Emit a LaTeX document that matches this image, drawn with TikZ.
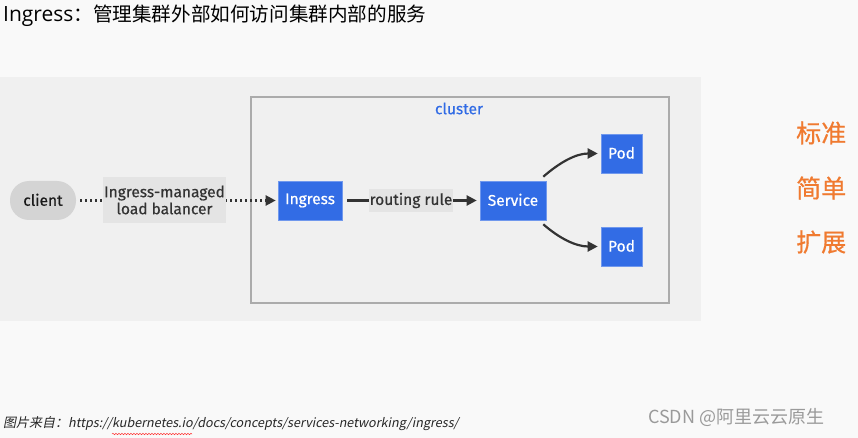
\documentclass[tikz,border=0pt]{standalone}
\usepackage{fontspec}
\setmainfont[FakeBold=0.5]{Fira Sans}
\newfontfamily\cjk{Noto Sans CJK SC}
\newfontfamily\cjkbold[FakeBold=0.6]{Noto Sans CJK SC}
\newfontfamily\titlelatin{Open Sans}
\newfontfamily\cjkit[FakeSlant=0.2]{Noto Sans CJK SC}
\usetikzlibrary{arrows.meta,decorations.pathmorphing}
\definecolor{kblue}{HTML}{326CE5}
\definecolor{pagebg}{HTML}{F9F9F9}
\definecolor{band}{HTML}{F0F0F0}
\definecolor{clusterline}{HTML}{ABABAB}
\definecolor{clientfill}{HTML}{D4D4D4}
\definecolor{labelfill}{HTML}{E4E4E4}
\definecolor{arrowc}{HTML}{333333}
\definecolor{orangetext}{HTML}{F07A30}
\definecolor{credit}{HTML}{9A9A9A}
\tikzset{
  kbox/.style={fill=kblue, draw=kblue!70!white, line width=0.6pt, text=white, inner sep=0pt, minimum height=39pt, font=\fontsize{15.5}{18}\selectfont},
  pill/.style={fill=clientfill, rounded corners=19pt, inner sep=0pt, minimum width=66pt, minimum height=39pt, text=black!90, font=\fontsize{15.5}{18}\selectfont},
  elabel/.style={fill=labelfill, inner sep=0pt, text=black!80, font=\fontsize{15.5}{18}\selectfont, align=center},
  arr/.style={draw=arrowc, line width=2.2pt, -{Triangle[length=10pt,width=10pt]}},
  dotarr/.style={arr, dash pattern=on 2.2pt off 2.8pt},
  sidetext/.style={text=orangetext, font=\cjkbold\fontsize{25}{28}\selectfont, anchor=west}
}
\begin{document}
\begin{tikzpicture}[x=1pt,y=-1pt]
\useasboundingbox (0,0) rectangle (858,438);
\fill[pagebg] (0,0) rectangle (858,438);
\fill[band] (0,77) rectangle (701,321);

% title
\node[anchor=west, inner sep=0pt, font=\cjk\fontsize{19.6}{24}\selectfont] (title) at (3,16) {{\titlelatin\fontsize{21}{24}\selectfont Ingress}：管理集群外部如何访问集群内部的服务};

% cluster frame
\node[draw=clusterline, line width=1.6pt, minimum width=418pt, minimum height=206pt, inner sep=0pt] (cluster) at (460,200) {};
\node[text=kblue, font=\fontsize{15.5}{18}\selectfont, inner sep=0pt] (clusterlbl) at (459,108.5) {cluster};

% nodes
\node[pill] (client) at (43,200.5) {\raisebox{1.5pt}{client}};
\node[kbox, minimum width=64pt] (ingress) at (310,200.5) {\raisebox{1.5pt}{Ingress}};
\node[kbox, minimum width=66pt] (service) at (513,200.5) {\raisebox{1.5pt}{Service}};
\node[kbox, minimum width=41pt] (pod1) at (621.5,153.5) {\raisebox{1.5pt}{Pod}};
\node[kbox, minimum width=41pt] (pod2) at (621.5,246.5) {\raisebox{1.5pt}{Pod}};

% connectors
\draw[dotarr, shorten <=4pt, shorten >=2pt] (client) -- (ingress);
\node[elabel, minimum width=123pt, minimum height=46pt] (lb) at (164.5,200) {Ingress-managed\\[-1pt]load balancer};

\draw[arr, shorten <=5pt, shorten >=3pt] (ingress) -- (service);
\node[elabel, minimum width=84pt, minimum height=23pt] (rr) at (411,200.5) {\raisebox{1.5pt}{routing rule}};

\coordinate (s1) at ([xshift=-3pt,yshift=4pt]service.north east);
\coordinate (s2) at ([xshift=-3pt,yshift=-4pt]service.south east);
\coordinate (p1) at ([xshift=-3pt]pod1.west);
\coordinate (p2) at ([xshift=-3pt]pod2.west);
\draw[arr] (s1) .. controls +(16,-14) and +(-22,0) .. (p1);
\draw[arr] (s2) .. controls +(16,14) and +(-22,0) .. (p2);

% side text
\node[sidetext, inner sep=0pt] (t1) at (796,133) {标准};
\node[sidetext, inner sep=0pt] (t2) at (796,188) {简单};
\node[sidetext, inner sep=0pt] (t3) at (796,242) {扩展};

% footer
\node[anchor=west, inner sep=0pt, font=\cjkit\fontsize{13}{16}\selectfont, text=black!85] (src) at (3,424) {图片来自：{\fontsize{12.6}{16}\selectfont https://kubernetes.io/docs/concepts/services-networking/ingress/}};
\draw[red!80, line width=0.5pt, decorate, decoration={snake, amplitude=0.7pt, segment length=3pt}] (112,434) -- (192,434);

\node[anchor=west, inner sep=0pt, text=credit, font=\cjk\fontsize{18}{20}\selectfont] (csdn) at (648,417) {CSDN @阿里云云原生};
\end{tikzpicture}
\end{document}
